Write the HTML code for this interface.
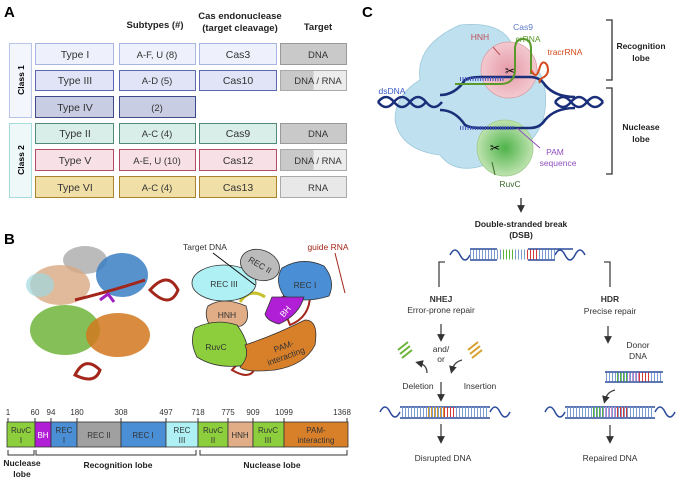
<!DOCTYPE html>
<html><head><meta charset="utf-8"><style>
html,body{margin:0;padding:0;background:#fff;}
svg{display:block;font-family:"Liberation Sans",Arial,sans-serif;}
</style></head><body>
<svg width="678" height="479" viewBox="0 0 678 479" xmlns="http://www.w3.org/2000/svg">
<defs>
<linearGradient id="dr" x1="0" x2="1"><stop offset="0.5" stop-color="#c9c9c9"/><stop offset="0.5" stop-color="#ececec"/></linearGradient>
<radialGradient id="hnh"><stop offset="0" stop-color="#e69aa8"/><stop offset="1" stop-color="#f3c9cf"/></radialGradient>
<radialGradient id="ruv"><stop offset="0" stop-color="#4fb34a"/><stop offset="1" stop-color="#bfe3b0"/></radialGradient>
<marker id="ah" markerWidth="6" markerHeight="6" refX="3" refY="3" orient="auto"><path d="M0,0 L6,3 L0,6 z" fill="#333"/></marker>
</defs>
<!-- Panel A -->
<text x="4" y="17" font-size="15" font-weight="bold">A</text>
<g font-size="9.5" font-weight="bold" text-anchor="middle" fill="#222">
<text x="155" y="28">Subtypes (#)</text>
<text x="240" y="19">Cas endonuclease</text>
<text x="240" y="31">(target cleavage)</text>
<text x="318" y="30">Target</text>
</g>
<rect x="9.5" y="43.5" width="22" height="74" fill="#f4f6fd" stroke="#b9c4ea"/>
<rect x="9.5" y="123.5" width="22" height="74" fill="#eef8f8" stroke="#a8dcdc"/>
<text transform="translate(24,80) rotate(-90)" font-size="8.5" font-weight="bold" text-anchor="middle">Class 1</text>
<text transform="translate(24,160) rotate(-90)" font-size="8.5" font-weight="bold" text-anchor="middle">Class 2</text>
<g font-size="10.5" text-anchor="middle" fill="#333">
<rect x="35.5" y="43.5" width="78" height="21" fill="#eef1fb" stroke="#a9b6e0"/><text x="75" y="58">Type I</text>
<rect x="119.5" y="43.5" width="76" height="21" fill="#eef1fb" stroke="#a9b6e0"/><text x="157" y="58" font-size="9.5">A-F, U (8)</text>
<rect x="199.5" y="43.5" width="77" height="21" fill="#eef1fb" stroke="#a9b6e0"/><text x="238" y="58">Cas3</text>
<rect x="280.5" y="43.5" width="66" height="21" fill="#c9c9c9" stroke="#999"/><text x="318" y="58" font-size="9.5">DNA</text>
<rect x="35.5" y="70.5" width="78" height="20" fill="#e0e4f6" stroke="#5b67b0"/><text x="75" y="84">Type III</text>
<rect x="119.5" y="70.5" width="76" height="20" fill="#e0e4f6" stroke="#5b67b0"/><text x="157" y="84" font-size="9.5">A-D (5)</text>
<rect x="199.5" y="70.5" width="77" height="20" fill="#e0e4f6" stroke="#5b67b0"/><text x="238" y="84">Cas10</text>
<rect x="280.5" y="70.5" width="66" height="20" fill="url(#dr)" stroke="#aaa"/><text x="318" y="84" font-size="9.5">DNA / RNA</text>
<rect x="35.5" y="96.5" width="78" height="21" fill="#c9cde3" stroke="#3e4a8a"/><text x="75" y="111">Type IV</text>
<rect x="119.5" y="96.5" width="76" height="21" fill="#c9cde3" stroke="#3e4a8a"/><text x="157" y="111" font-size="9.5">(2)</text>
<rect x="35.5" y="123.5" width="78" height="20" fill="#d9eee8" stroke="#4f8a78"/><text x="75" y="137">Type II</text>
<rect x="119.5" y="123.5" width="76" height="20" fill="#d9eee8" stroke="#4f8a78"/><text x="157" y="137" font-size="9.5">A-C (4)</text>
<rect x="199.5" y="123.5" width="77" height="20" fill="#d9eee8" stroke="#4f8a78"/><text x="238" y="137">Cas9</text>
<rect x="280.5" y="123.5" width="66" height="20" fill="#c9c9c9" stroke="#999"/><text x="318" y="137" font-size="9.5">DNA</text>
<rect x="35.5" y="149.5" width="78" height="21" fill="#f7e1e6" stroke="#b24b66"/><text x="75" y="164">Type V</text>
<rect x="119.5" y="149.5" width="76" height="21" fill="#f7e1e6" stroke="#b24b66"/><text x="157" y="164" font-size="9.5">A-E, U (10)</text>
<rect x="199.5" y="149.5" width="77" height="21" fill="#f7e1e6" stroke="#b24b66"/><text x="238" y="164">Cas12</text>
<rect x="280.5" y="149.5" width="66" height="21" fill="url(#dr)" stroke="#aaa"/><text x="318" y="164" font-size="9.5">DNA / RNA</text>
<rect x="35.5" y="176.5" width="78" height="21" fill="#f1dfa8" stroke="#a9822e"/><text x="75" y="191">Type VI</text>
<rect x="119.5" y="176.5" width="76" height="21" fill="#f1dfa8" stroke="#a9822e"/><text x="157" y="191" font-size="9.5">A-C (4)</text>
<rect x="199.5" y="176.5" width="77" height="21" fill="#f1dfa8" stroke="#a9822e"/><text x="238" y="191">Cas13</text>
<rect x="280.5" y="176.5" width="66" height="21" fill="#e8e8e8" stroke="#aaa"/><text x="318" y="191" font-size="9.5">RNA</text>
</g>

<!-- Panel B -->
<text x="4" y="244" font-size="15" font-weight="bold">B</text>
<ellipse cx="85" cy="260" rx="22" ry="14" fill="#aaa" opacity="0.8"/>
<ellipse cx="60" cy="285" rx="30" ry="20" fill="#d9a882" opacity="0.8"/>
<ellipse cx="40" cy="285" rx="14" ry="12" fill="#9fd9e0" opacity="0.7"/>
<ellipse cx="122" cy="275" rx="26" ry="22" fill="#3b7fc4" opacity="0.85"/>
<ellipse cx="65" cy="330" rx="35" ry="25" fill="#6fb53a" opacity="0.85"/>
<ellipse cx="118" cy="335" rx="32" ry="22" fill="#d2781f" opacity="0.85"/>
<path d="M150,290 q18,-20 28,0 q-8,20 -28,0z M75,375 q10,-20 25,-5 q-5,15 -25,5z" fill="none" stroke="#a3261a" stroke-width="3"/>
<path d="M75,300 q40,-10 70,-20" stroke="#a3261a" stroke-width="3" fill="none"/>
<path d="M100,300 l8,-6 l6,8" stroke="#a020c0" stroke-width="3" fill="none"/>
<path d="M280,300 q18,-20 30,-5 q0,22 -20,30z" fill="none" stroke="#a3261a" stroke-width="2"/>
<path d="M232,370 q12,-15 22,0 q-5,10 -22,0z" fill="none" stroke="#a3261a" stroke-width="2"/>
<path d="M240,302 q10,-15 25,-5" fill="none" stroke="#c8c02a" stroke-width="3"/>
<ellipse cx="224" cy="283" rx="32" ry="18" fill="#aef0f3" stroke="#333" stroke-width="0.8"/>
<ellipse cx="260" cy="265" rx="20" ry="15" fill="#bbb" stroke="#333" stroke-width="0.8" transform="rotate(20 260 265)"/>
<path d="M282,268 q20,-12 42,-2 q12,15 5,30 q-25,8 -45,0 q-10,-15 -2,-28z" fill="#4a8fd6" stroke="#333" stroke-width="0.8"/>
<path d="M208,306 q15,-10 38,0 q5,15 -5,20 q-20,3 -32,-2 q-5,-10 -1,-18z" fill="#e0ad86" stroke="#333" stroke-width="0.8"/>
<path d="M272,297 l32,0 q-5,18 -25,27 q-12,-3 -14,-10z" fill="#b01fd6" stroke="#333" stroke-width="0.8"/>
<path d="M195,328 q20,-10 42,-3 q15,20 10,40 q-30,5 -50,-8 q-8,-15 -2,-29z" fill="#8dce3c" stroke="#333" stroke-width="0.8"/>
<path d="M245,345 q30,-10 60,-25 q14,0 10,25 q-10,20 -40,25 q-30,3 -35,-3 q10,-10 5,-22z" fill="#d87f2a" stroke="#333" stroke-width="0.8"/>
<g font-size="8.5" fill="#333" text-anchor="middle">
<text x="224" y="287">REC III</text>
<text x="260" y="268" transform="rotate(30 260 265)">REC II</text>
<text x="305" y="288">REC I</text>
<text x="227" y="318">HNH</text>
<text x="286" y="314" transform="rotate(-50 286 312)" fill="#fff">BH</text>
<text x="216" y="350">RuvC</text>
<text x="285" y="349" transform="rotate(-20 285 350)">PAM-</text>
<text x="287" y="359" transform="rotate(-20 287 359)">interacting</text>
<text x="205" y="250">Target DNA</text>
<text x="328" y="250" fill="#a3261a">guide RNA</text>
</g>
<line x1="213" y1="253" x2="255" y2="285" stroke="#111" stroke-width="1"/>
<line x1="335" y1="253" x2="345" y2="293" stroke="#a3261a" stroke-width="1"/>
<g stroke="#333" stroke-width="0.8">
<rect x="7" y="422" width="28" height="25" fill="#8dce3c"/>
<rect x="35" y="422" width="16" height="25" fill="#b01fd6"/>
<rect x="51" y="422" width="26" height="25" fill="#4a8fd6"/>
<rect x="77" y="422" width="44" height="25" fill="#a0a0a0"/>
<rect x="121" y="422" width="45" height="25" fill="#4a8fd6"/>
<rect x="166" y="422" width="32" height="25" fill="#aef0f3"/>
<rect x="198" y="422" width="30" height="25" fill="#8dce3c"/>
<rect x="228" y="422" width="25" height="25" fill="#e0ad86"/>
<rect x="253" y="422" width="31" height="25" fill="#8dce3c"/>
<rect x="284" y="422" width="64" height="25" fill="#d87f2a"/>
</g>
<g font-size="8" fill="#333" text-anchor="middle">
<text x="21" y="433">RuvC</text><text x="21" y="443">I</text>
<text x="43" y="438" fill="#fff">BH</text>
<text x="64" y="433">REC</text><text x="64" y="443">I</text>
<text x="99" y="438">REC II</text>
<text x="143" y="438">REC I</text>
<text x="182" y="433">REC</text><text x="182" y="443">III</text>
<text x="213" y="433">RuvC</text><text x="213" y="443">II</text>
<text x="240" y="438">HNH</text>
<text x="268" y="433">RuvC</text><text x="268" y="443">III</text>
<text x="316" y="433">PAM-</text><text x="316" y="443">interacting</text>
<text x="8" y="415">1</text><text x="35" y="415">60</text><text x="51" y="415">94</text><text x="77" y="415">180</text><text x="121" y="415">308</text><text x="166" y="415">497</text><text x="198" y="415">718</text><text x="228" y="415">775</text><text x="253" y="415">909</text><text x="284" y="415">1099</text><text x="342" y="415">1368</text>
</g>
<g stroke="#333" stroke-width="1" fill="none">
<path d="M8,418v4M35,418v4M51,418v4M77,418v4M121,418v4M166,418v4M198,418v4M228,418v4M253,418v4M284,418v4M347,418v4"/>
<path d="M8,450v5h26v-5M36,450v5h160v-5M200,450v5h147v-5"/>
</g>
<g font-size="8.5" font-weight="bold" text-anchor="middle" fill="#222">
<text x="22" y="466">Nuclease</text><text x="22" y="477">lobe</text>
<text x="118" y="468">Recognition lobe</text>
<text x="272" y="468">Nuclease lobe</text>
</g>

<!-- Panel C -->
<text x="362" y="17" font-size="15" font-weight="bold">C</text>
<path d="M420,80 q-5,-35 40,-55 q50,-5 55,30 q35,10 30,55 q-5,40 -60,55 q-30,10 -45,-10 q-40,-5 -45,-35 q0,-25 25,-40z" fill="#bfe0ee" stroke="#9cc8dc" stroke-width="0.8"/>
<circle cx="509" cy="70" r="28" fill="url(#hnh)" stroke="#d8a0a8" stroke-width="0.8"/>
<circle cx="505" cy="148" r="28" fill="url(#ruv)" stroke="#9ccc8a" stroke-width="0.8"/>
<g stroke="#1a2f7a" stroke-width="2.6" fill="none">
<path d="M378,102 q8,-10 16,0 t16,0 t16,0 t16,0"/>
<path d="M378,102 q8,10 16,0 t16,0 t16,0"/>
<path d="M440,95 q15,0 25,-15 q5,-3 15,-3 h50 q10,0 15,8 q10,12 30,12"/>
<path d="M440,110 q15,0 25,15 q5,3 15,3 h50 q10,0 15,-8 q10,-12 30,-12"/>
<path d="M555,102 q8,-10 16,0 t16,0 t16,0"/>
<path d="M555,102 q8,10 16,0 t16,0 t16,0"/>
</g>
<path d="M455,84 h45 q15,0 15,-15 v-20 q0,-10 8,-10 q8,0 8,10 v25" stroke="#5a9a2a" stroke-width="2" fill="none"/>
<path d="M531,70 q5,10 8,0 q3,-12 8,-5 q3,8 -3,12 q-6,3 -4,6" stroke="#d44a1a" stroke-width="2" fill="none"/>
<path d="M460,79 h45 M460,128 h55" stroke="#4a5ac0" stroke-width="4" stroke-dasharray="1 1.5"/>
<line x1="517" y1="128" x2="540" y2="148" stroke="#9050c0" stroke-width="1"/>
<line x1="492" y1="162" x2="495" y2="175" stroke="#3a6a2a" stroke-width="1"/>
<line x1="493" y1="47" x2="500" y2="55" stroke="#c0505a" stroke-width="1"/>
<text x="505" y="75" font-size="12">✂</text><text x="490" y="152" font-size="12">✂</text>
<g font-size="8.5" text-anchor="middle">
<text x="523" y="30" fill="#5a7ac8">Cas9</text>
<text x="480" y="40" fill="#c0505a">HNH</text>
<text x="528" y="42" fill="#5a9a2a">crRNA</text>
<text x="565" y="55" fill="#d44a1a">tracrRNA</text>
<text x="392" y="94" fill="#3a5ac8">dsDNA</text>
<text x="555" y="155" fill="#9050c0">PAM</text>
<text x="558" y="166" fill="#9050c0">sequence</text>
<text x="510" y="187" fill="#3a6a2a">RuvC</text>
</g>
<g stroke="#333" stroke-width="1.3" fill="none">
<path d="M606,20h6v60h-6M606,88h6v86h-6"/>
</g>
<g font-size="8.5" font-weight="bold" text-anchor="middle" fill="#222">
<text x="641" y="49">Recognition</text><text x="641" y="61">lobe</text>
<text x="641" y="130">Nuclease</text><text x="641" y="142">lobe</text>
<text x="521" y="227">Double-stranded break</text><text x="521" y="238">(DSB)</text>
</g>
<line x1="521" y1="198" x2="521" y2="209" stroke="#333" stroke-width="1.3" marker-end="url(#ah)"/>
<g stroke="#2a4a9a" stroke-width="1.5" fill="none">
<path d="M470,249 h27 M528,249 h45 M470,260 h27 M528,260 h27"/>
<path d="M450,255 q5,-10 10,0 t10,0 M555,255 q5,-10 10,0 t10,0 t10,0"/>
</g>
<path d="M470,254.5 h85" stroke="#7a9ad0" stroke-width="10" stroke-dasharray="1 2"/>
<path d="M503,254.5 h12" stroke="#5ab43a" stroke-width="10" stroke-dasharray="1 2"/>
<path d="M527,254.5 h12" stroke="#d43a3a" stroke-width="10" stroke-dasharray="1 2"/>
<g stroke="#444" stroke-width="1.3" fill="none">
<path d="M445,262 h-6 v25 M604,262 h6 v25"/>
</g>
<g font-size="8.5" text-anchor="middle" fill="#333">
<text x="441" y="302" font-weight="bold">NHEJ</text><text x="441" y="313">Error-prone repair</text>
<text x="610" y="302" font-weight="bold">HDR</text><text x="610" y="314">Precise repair</text>
<text x="441" y="352">and/</text><text x="441" y="362">or</text>
<text x="418" y="389">Deletion</text><text x="480" y="389">Insertion</text>
<text x="443" y="461">Disrupted DNA</text>
<text x="610" y="461">Repaired DNA</text>
<text x="638" y="348">Donor</text><text x="638" y="359">DNA</text>
</g>
<g stroke="#444" stroke-width="1.3" fill="none" marker-end="url(#ah)">
<line x1="441" y1="324" x2="441" y2="338"/>
<line x1="441" y1="382" x2="441" y2="398"/>
<line x1="441" y1="424" x2="441" y2="440"/>
<line x1="608" y1="326" x2="608" y2="340"/>
<line x1="610" y1="425" x2="610" y2="440"/>
<path d="M427,373 q0,-8 -8,-10"/>
<path d="M462,360 q-8,2 -10,10"/>
<path d="M615,390 q-8,2 -10,10"/>
</g>
<path d="M398,350 l10,-8 M400,354 l10,-8 M402,358 l10,-8" stroke="#6ab43a" stroke-width="2"/>
<path d="M468,350 l10,-8 M470,354 l10,-8 M472,358 l10,-8" stroke="#d8a02a" stroke-width="2"/>
<g stroke="#2a4a9a" stroke-width="1.5" fill="none">
<path d="M400,407 h90 M400,418 h90"/>
<path d="M380,412 q5,-10 10,0 t10,0 M490,412 q5,-10 10,0 t10,0 M545,412 q5,-10 10,0 t10,0 M655,412 q5,-10 10,0 t10,0 M565,407 h90 M565,418 h90"/>
</g>
<path d="M402,412 h86" stroke="#7a9ad0" stroke-width="10" stroke-dasharray="1 2"/>
<path d="M428,412 h16" stroke="#d8a02a" stroke-width="10" stroke-dasharray="1 2"/>
<path d="M444,412 h12" stroke="#d43a3a" stroke-width="10" stroke-dasharray="1 2"/>
<path d="M567,412 h86" stroke="#7a9ad0" stroke-width="10" stroke-dasharray="1 2"/>
<path d="M593,412 h12" stroke="#5ab43a" stroke-width="10" stroke-dasharray="1 2"/>
<path d="M605,412 h12" stroke="#d090d0" stroke-width="10" stroke-dasharray="1 2"/>
<path d="M617,412 h12" stroke="#d43a3a" stroke-width="10" stroke-dasharray="1 2"/>
<path d="M605,372 h58 M605,382 h58" stroke="#2a4a9a" stroke-width="1.5"/>
<path d="M606,377 h56" stroke="#7a9ad0" stroke-width="9" stroke-dasharray="1 2"/>
<path d="M617,377 h12" stroke="#5ab43a" stroke-width="9" stroke-dasharray="1 2"/>
<path d="M629,377 h10" stroke="#d090d0" stroke-width="9" stroke-dasharray="1 2"/>
<path d="M639,377 h12" stroke="#d43a3a" stroke-width="9" stroke-dasharray="1 2"/>
</svg>
</body></html>
